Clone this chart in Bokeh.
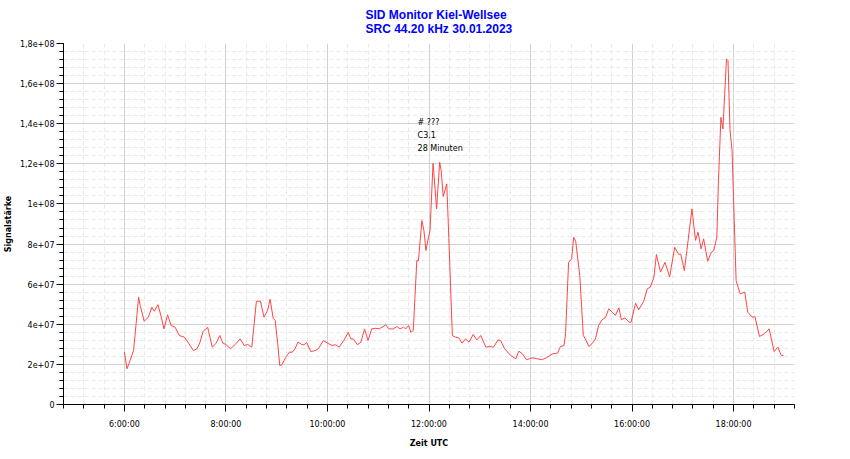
from bokeh.plotting import figure
from bokeh.models import FixedTicker, Label, Range1d, Title
from bokeh.embed import file_html
from bokeh.resources import INLINE

# --- data (time in decimal hours UTC, signal in units of 1e7) ---
hours = [
    6.00, 6.05, 6.10, 6.18, 6.23, 6.28, 6.31, 6.39, 6.47, 6.54, 6.59, 6.66, 6.71, 6.78, 6.85, 6.92,
    7.00, 7.08, 7.18, 7.25, 7.36, 7.43, 7.49, 7.55, 7.64, 7.73, 7.80, 7.88, 7.94,
    8.00, 8.09, 8.18, 8.28, 8.36, 8.43, 8.51, 8.60, 8.68, 8.75, 8.82, 8.87, 8.93, 8.97,
    9.02, 9.06, 9.10, 9.18, 9.25, 9.31, 9.36, 9.42, 9.50, 9.54, 9.59, 9.67, 9.76, 9.82, 9.92,
    10.00, 10.09, 10.16, 10.23, 10.32, 10.41, 10.46, 10.51, 10.59, 10.66, 10.73, 10.80, 10.87, 10.95,
    11.02, 11.15, 11.21, 11.30, 11.37, 11.43, 11.50, 11.54, 11.60, 11.64, 11.69, 11.76, 11.79, 11.81,
    11.86, 11.90, 11.94, 11.99,
    12.02, 12.08, 12.15, 12.21, 12.24, 12.28, 12.35, 12.39, 12.46, 12.52, 12.59, 12.65, 12.72, 12.79,
    12.87, 12.94,
    13.02, 13.12, 13.20, 13.27, 13.36, 13.41, 13.49, 13.61, 13.71, 13.77, 13.84, 13.92,
    14.03, 14.13, 14.23, 14.33, 14.43, 14.53, 14.59, 14.66, 14.69, 14.75, 14.81, 14.85, 14.89, 14.97,
    15.04, 15.08, 15.15, 15.21, 15.28, 15.34, 15.41, 15.48, 15.54, 15.61, 15.67, 15.74, 15.79, 15.86,
    15.94, 15.98,
    16.07, 16.13, 16.23, 16.30, 16.36, 16.43, 16.48, 16.56, 16.65, 16.74, 16.84, 16.92, 16.96,
    17.03, 17.08, 17.18, 17.25, 17.30, 17.36, 17.41, 17.49, 17.56, 17.61, 17.67, 17.70, 17.75, 17.79,
    17.86, 17.89, 17.93, 17.97,
    18.05, 18.13, 18.22, 18.28, 18.37, 18.42, 18.51, 18.62, 18.70, 18.80, 18.87, 18.94, 18.98,
]
signal_e7 = [
    2.61, 1.78, 2.11, 2.69, 4.02, 5.35, 4.94, 4.15, 4.35, 4.85, 4.65, 4.98, 4.52, 3.77, 4.47, 3.94,
    3.85, 3.44, 3.36, 3.11, 2.69, 2.78, 3.11, 3.65, 3.85, 2.86, 3.03, 3.44, 3.06,
    2.99, 2.78, 2.99, 3.27, 2.94, 2.99, 2.86, 5.15, 5.15, 4.35, 4.69, 5.25, 4.30, 4.19,
    3.03, 1.94, 1.98, 2.36, 2.61, 2.61, 2.78, 3.11, 2.98, 2.98, 3.09, 2.64, 2.69, 2.78, 3.19,
    3.06, 2.94, 2.98, 2.86, 3.19, 3.60, 3.27, 3.27, 2.98, 3.11, 3.77, 3.19, 3.77, 3.80,
    3.77, 3.97, 3.77, 3.77, 3.89, 3.77, 3.85, 3.77, 3.94, 3.60, 3.69, 7.18, 7.15, 7.68,
    9.17, 8.67, 7.68, 8.34,
    8.67, 12.03, 9.76, 12.08, 11.67, 10.37, 11.00, 8.34, 3.44, 3.36, 3.32, 3.06, 3.27, 3.11,
    3.49, 3.22,
    3.44, 2.86, 2.89, 2.86, 3.22, 3.19, 2.78, 2.44, 2.28, 2.66, 2.53, 2.23,
    2.33, 2.28, 2.23, 2.36, 2.52, 2.56, 2.89, 2.94, 3.52, 7.09, 7.26, 8.34, 8.14, 6.43,
    3.44, 3.27, 2.89, 3.03, 3.27, 3.94, 4.22, 4.35, 4.77, 4.60, 4.44, 4.82, 4.22, 4.32,
    4.10, 4.10,
    5.05, 4.72, 5.15, 5.77, 5.85, 6.35, 7.48, 6.60, 7.09, 6.36, 7.84, 7.48, 7.50,
    6.68, 7.68, 9.76, 8.18, 8.59, 7.76, 8.26, 7.14, 7.59, 7.68, 8.34, 11.00, 14.32, 13.74,
    17.23, 17.15, 13.66, 12.66,
    6.18, 5.52, 5.60, 4.60, 4.35, 4.39, 3.39, 3.55, 3.77, 2.64, 2.86, 2.44, 2.44,
]
signal = [v * 1e7 for v in signal_e7]

x_ticks = [6.0, 8.0, 10.0, 12.0, 14.0, 16.0, 18.0]
x_tick_labels = ["6:00:00", "8:00:00", "10:00:00", "12:00:00", "14:00:00", "16:00:00", "18:00:00"]
y_ticks = [0.0, 2e7, 4e7, 6e7, 8e7, 1e8, 1.2e8, 1.4e8, 1.6e8, 1.8e8]
y_tick_labels = ["0", "2e+07", "4e+07", "6e+07", "8e+07", "1e+08", "1,2e+08", "1,4e+08", "1,6e+08", "1,8e+08"]

title_lines = ["SID Monitor Kiel-Wellsee", "SRC 44.20 kHz 30.01.2023"]
event_lines = ["# ???", "C3.1", "28 Minuten"]

# --- figure ---
X0, X1 = 4.8, 19.2
Y0, Y1 = 0.0, 1.8e8

p = figure(width=850, height=459, x_range=Range1d(X0, X1), y_range=Range1d(Y0, Y1),
           output_backend="svg", toolbar_location=None,
           min_border_left=63, min_border_right=56, min_border_top=43, min_border_bottom=55)
p.outline_line_color = None
p.background_fill_color = "white"
p.border_fill_color = "white"

# two-line blue title
p.add_layout(Title(text="\n".join(title_lines), align="left", offset=302,
                   vertical_align="top", standoff=12,
                   text_font="Liberation Sans", text_font_size="12px", text_font_style="bold",
                   text_color="#0000ff", text_line_height=1.0), "above")

x_minor = [round(X0 + 0.4 * i, 2) for i in range(37)]
y_minor = [4e6 * i for i in range(46)]
p.xaxis.ticker = FixedTicker(ticks=x_ticks, minor_ticks=x_minor)
p.yaxis.ticker = FixedTicker(ticks=y_ticks, minor_ticks=y_minor)
p.xaxis.major_label_overrides = dict(zip(x_ticks, x_tick_labels))
p.yaxis.major_label_overrides = dict(zip(y_ticks, y_tick_labels))

for ax in (p.xaxis, p.yaxis):
    ax.axis_line_color = "black"
    ax.axis_line_width = 1
    ax.major_tick_line_color = "black"
    ax.minor_tick_line_color = "black"
    ax.major_tick_in = 0
    ax.minor_tick_in = 0
    ax.major_tick_out = 7
    ax.minor_tick_out = 4
    ax.major_label_text_font = "DejaVu Sans"
    ax.major_label_text_font_size = "8px"
    ax.major_label_text_color = "black"
    ax.axis_label_text_font = "DejaVu Sans"
    ax.axis_label_text_font_size = "8px"
    ax.axis_label_text_font_style = "bold"
    ax.axis_label_text_color = "black"

p.xaxis.axis_label = "Zeit UTC"
p.yaxis.axis_label = "Signalstärke"
p.xaxis.major_label_standoff = 8
p.yaxis.major_label_standoff = 2
p.xaxis.axis_label_standoff = 7
p.yaxis.axis_label_standoff = 4

for g in (p.xgrid, p.ygrid):
    g.grid_line_color = "#d2d2d2"
    g.grid_line_width = 1
    g.minor_grid_line_color = "#e8e8e8"
    g.minor_grid_line_dash = "4 3"
    g.minor_grid_line_width = 1

p.line(hours, signal, line_color="#ff4545", line_width=1)

# event annotation
ev_x = 11.775
ev_y = [1.406e8, 1.341e8, 1.276e8]
for txt, ty in zip(event_lines, ev_y):
    p.add_layout(Label(x=ev_x, y=ty, text=txt, text_align="left", text_baseline="middle",
                       text_font="DejaVu Sans", text_font_size="8px", text_color="black"))

open("out.html", "w").write(file_html(p, INLINE))
